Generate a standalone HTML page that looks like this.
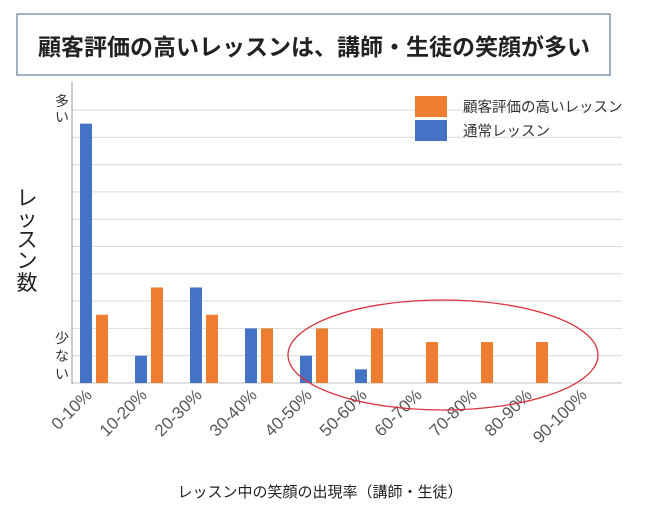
<!DOCTYPE html>
<html><head><meta charset="utf-8"><style>
body{margin:0;background:#fff;width:650px;height:520px;overflow:hidden;font-family:"Liberation Sans","Noto Sans CJK JP",sans-serif}
</style></head><body>
<svg width="650" height="520" font-family="Liberation Sans, Noto Sans CJK JP, sans-serif">
<rect x="17" y="14" width="593" height="61" fill="#fff" stroke="#8497b0" stroke-width="1.5"/>
<text x="314" y="55" text-anchor="middle" font-size="23" font-weight="bold" fill="#222">顧客評価の高いレッスンは、講師・生徒の笑顔が多い</text>
<g id="grid"></g>
<line x1="72" y1="82" x2="72" y2="384" stroke="#999"/>
<g id="bars"></g>
<g id="xlabels"></g>
<ellipse cx="443" cy="355" rx="155" ry="55" fill="none" stroke="#d9333f" stroke-width="1.3"/>
<g font-size="14" fill="#333">
<text x="62" y="106" text-anchor="middle">多</text>
<text x="62" y="122" text-anchor="middle">い</text>
<text x="62" y="343" text-anchor="middle">少</text>
<text x="62" y="361" text-anchor="middle">な</text>
<text x="62" y="379" text-anchor="middle">い</text>
</g>
<g font-size="21" fill="#222">
<text x="27" y="205" text-anchor="middle">レ</text>
<text x="27" y="226" text-anchor="middle">ッ</text>
<text x="27" y="247" text-anchor="middle">ス</text>
<text x="27" y="268" text-anchor="middle">ン</text>
<text x="27" y="290" text-anchor="middle">数</text>
</g>
<text x="320" y="497" text-anchor="middle" font-size="15" fill="#222">レッスン中の笑顔の出現率（講師・生徒）</text>
<rect x="415" y="96" width="32" height="21" fill="#ed7d31"/>
<rect x="415" y="120" width="32" height="21" fill="#4472c4"/>
<text x="463" y="112" font-size="14.5" fill="#333">顧客評価の高いレッスン</text>
<text x="463" y="136" font-size="14.5" fill="#333">通常レッスン</text>
</svg>
<script>
const categories=["0-10%","10-20%","20-30%","30-40%","40-50%","50-60%","60-70%","70-80%","80-90%","90-100%"];
const normalValues=[9.5,1,3.5,2,1,0.5,0,0,0,0];
const highValues=[2.5,3.5,2.5,2,2,2,1.5,1.5,1.5,0];
const gridTicks=[1,2,3,4,5,6,7,8,9,10];
const NS="http://www.w3.org/2000/svg";
const y0=383,unit=27.3,xL=72,band=55;
function yS(v){return y0-v*unit;}
function xC(i){return xL+22+i*band;}
const grid=document.getElementById('grid');
gridTicks.forEach(t=>{const l=document.createElementNS(NS,'line');
l.setAttribute('x1',72);l.setAttribute('x2',622);l.setAttribute('y1',yS(t));l.setAttribute('y2',yS(t));
l.setAttribute('stroke','#d9d9d9');


grid.appendChild(l);});
const base=document.createElementNS(NS,'line');
base.setAttribute('x1',72);base.setAttribute('x2',622);base.setAttribute('y1',y0);base.setAttribute('y2',y0);base.setAttribute('stroke','#bfbfbf');


grid.appendChild(base);
const bars=document.getElementById('bars');
function bar(x,v,c,name){if(v<=0)return;const r=document.createElementNS(NS,'rect');
r.setAttribute('x',x);r.setAttribute('width',12);r.setAttribute('y',yS(v));r.setAttribute('height',v*unit);r.setAttribute('fill',c);


bars.appendChild(r);}
categories.forEach((c,i)=>{bar(xC(i)-14,normalValues[i],'#4472c4','bar-normal');bar(xC(i)+2,highValues[i],'#ed7d31','bar-high');
const t=document.createElementNS(NS,'text');t.textContent=c;
const x=xC(i)-1,y=396;
t.setAttribute('x',x);t.setAttribute('y',y);t.setAttribute('text-anchor','end');t.setAttribute('font-size','17');t.setAttribute('fill','#595959');
t.setAttribute('transform','rotate(-45 '+x+' '+y+')');


document.getElementById('xlabels').appendChild(t);});
</script>
</body></html>
